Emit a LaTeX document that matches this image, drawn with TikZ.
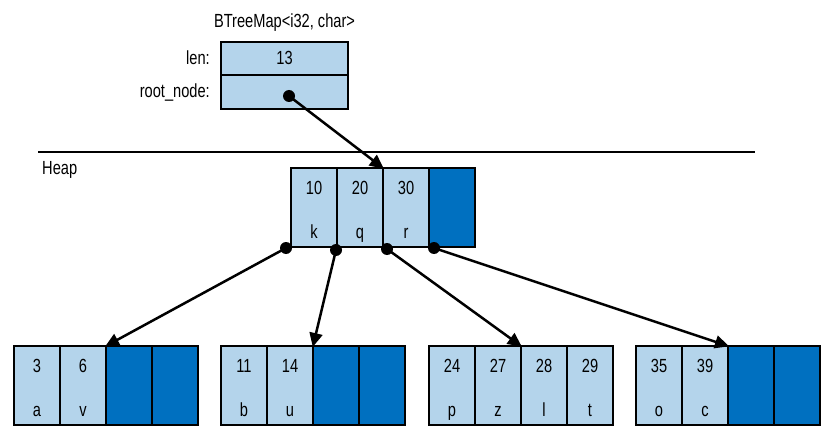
\documentclass[tikz,border=0pt]{standalone}
\usepackage{fontspec}
\setmainfont{Liberation Sans}[FakeStretch=0.77]
\usetikzlibrary{arrows.meta}
\definecolor{lightcell}{RGB}{180,212,235}
\definecolor{darkcell}{RGB}{0,112,192}
\tikzset{
  cell/.style={draw, line width=2.5pt, minimum width=46pt, minimum height=79pt, inner sep=0pt, outer sep=0pt},
  field/.style={draw, line width=2.5pt, minimum width=127pt, inner sep=0pt, outer sep=0pt, fill=lightcell},
  txt/.style={anchor=base, inner sep=0pt, font=\fontsize{19}{21}\selectfont},
  conn/.style={line width=2.5pt, -{Triangle[length=14pt,width=13pt]}, shorten >=-1pt},
  dotnode/.style={circle, fill=black, minimum size=12pt, inner sep=0pt},
}
\newcommand\kvcell[5]{%
  \node[cell, fill=lightcell] (#1) at (#2+23,#3+39.5) {};
  \node[txt] (#1n) at (#2+23,#3+26) {#4};
  \node[txt] (#1l) at (#2+23,#3+70) {#5};}
\newcommand\emptycell[3]{%
  \node[cell, fill=darkcell] (#1) at (#2+23,#3+39.5) {};}
\begin{document}
\begin{tikzpicture}[x=1pt, y=-1pt]
\useasboundingbox (0,0) rectangle (838,433);

% top struct
\node[txt] (title) at (284.5,28) {BTreeMap<i32, char>};
\node[field, minimum height=33pt] (lenbox) at (284.5,58.5) {};
\node[field, minimum height=34pt] (rootbox) at (284.5,92) {};
\node[txt] (lenval) at (284.5,65) {13};
\node[txt, anchor=base east] (lenlab) at (210,65) {len:};
\node[txt, anchor=base east] (rootlab) at (210,98) {root\_node:};

% heap separator
\coordinate (hl) at (38,152);
\coordinate (hr) at (755,152);
\draw[line width=2pt] (hl) -- (hr);
\node[txt, anchor=base west] (heap) at (42,175) {Heap};

% root node
\kvcell{r1}{291}{168}{10}{k}
\kvcell{r2}{337}{168}{20}{q}
\kvcell{r3}{383}{168}{30}{r}
\emptycell{r4}{429}{168}

% leaves
\kvcell{a1}{14}{346}{3}{a}
\kvcell{a2}{60}{346}{6}{v}
\emptycell{a3}{106}{346}
\emptycell{a4}{152}{346}

\kvcell{b1}{221}{346}{11}{b}
\kvcell{b2}{267}{346}{14}{u}
\emptycell{b3}{313}{346}
\emptycell{b4}{359}{346}

\kvcell{c1}{429}{346}{24}{p}
\kvcell{c2}{475}{346}{27}{z}
\kvcell{c3}{521}{346}{28}{l}
\kvcell{c4}{567}{346}{29}{t}

\kvcell{d1}{636}{346}{35}{o}
\kvcell{d2}{682}{346}{39}{c}
\emptycell{d3}{728}{346}
\emptycell{d4}{774}{346}

% dots
\node[dotnode] (rootdot) at (289,96) {};
\node[dotnode] (q1) at ([xshift=-5pt,yshift=-1pt]r1.south west) {};
\node[dotnode] (q2) at ([xshift=-1pt,yshift=-3pt]r2.south west) {};
\node[dotnode] (q3) at ([xshift=4pt,yshift=-2pt]r3.south west) {};
\node[dotnode] (q4) at ([xshift=5pt,yshift=-1pt]r4.south west) {};

% connectors
\draw[conn] (rootdot.center) -- (r2.north east);
\draw[conn] (q1.center) -- (a2.north east);
\draw[conn] (q2.center) -- (b2.north east);
\draw[conn] (q3.center) -- (c2.north east);
\draw[conn] (q4.center) -- (d2.north east);
\end{tikzpicture}
\end{document}
